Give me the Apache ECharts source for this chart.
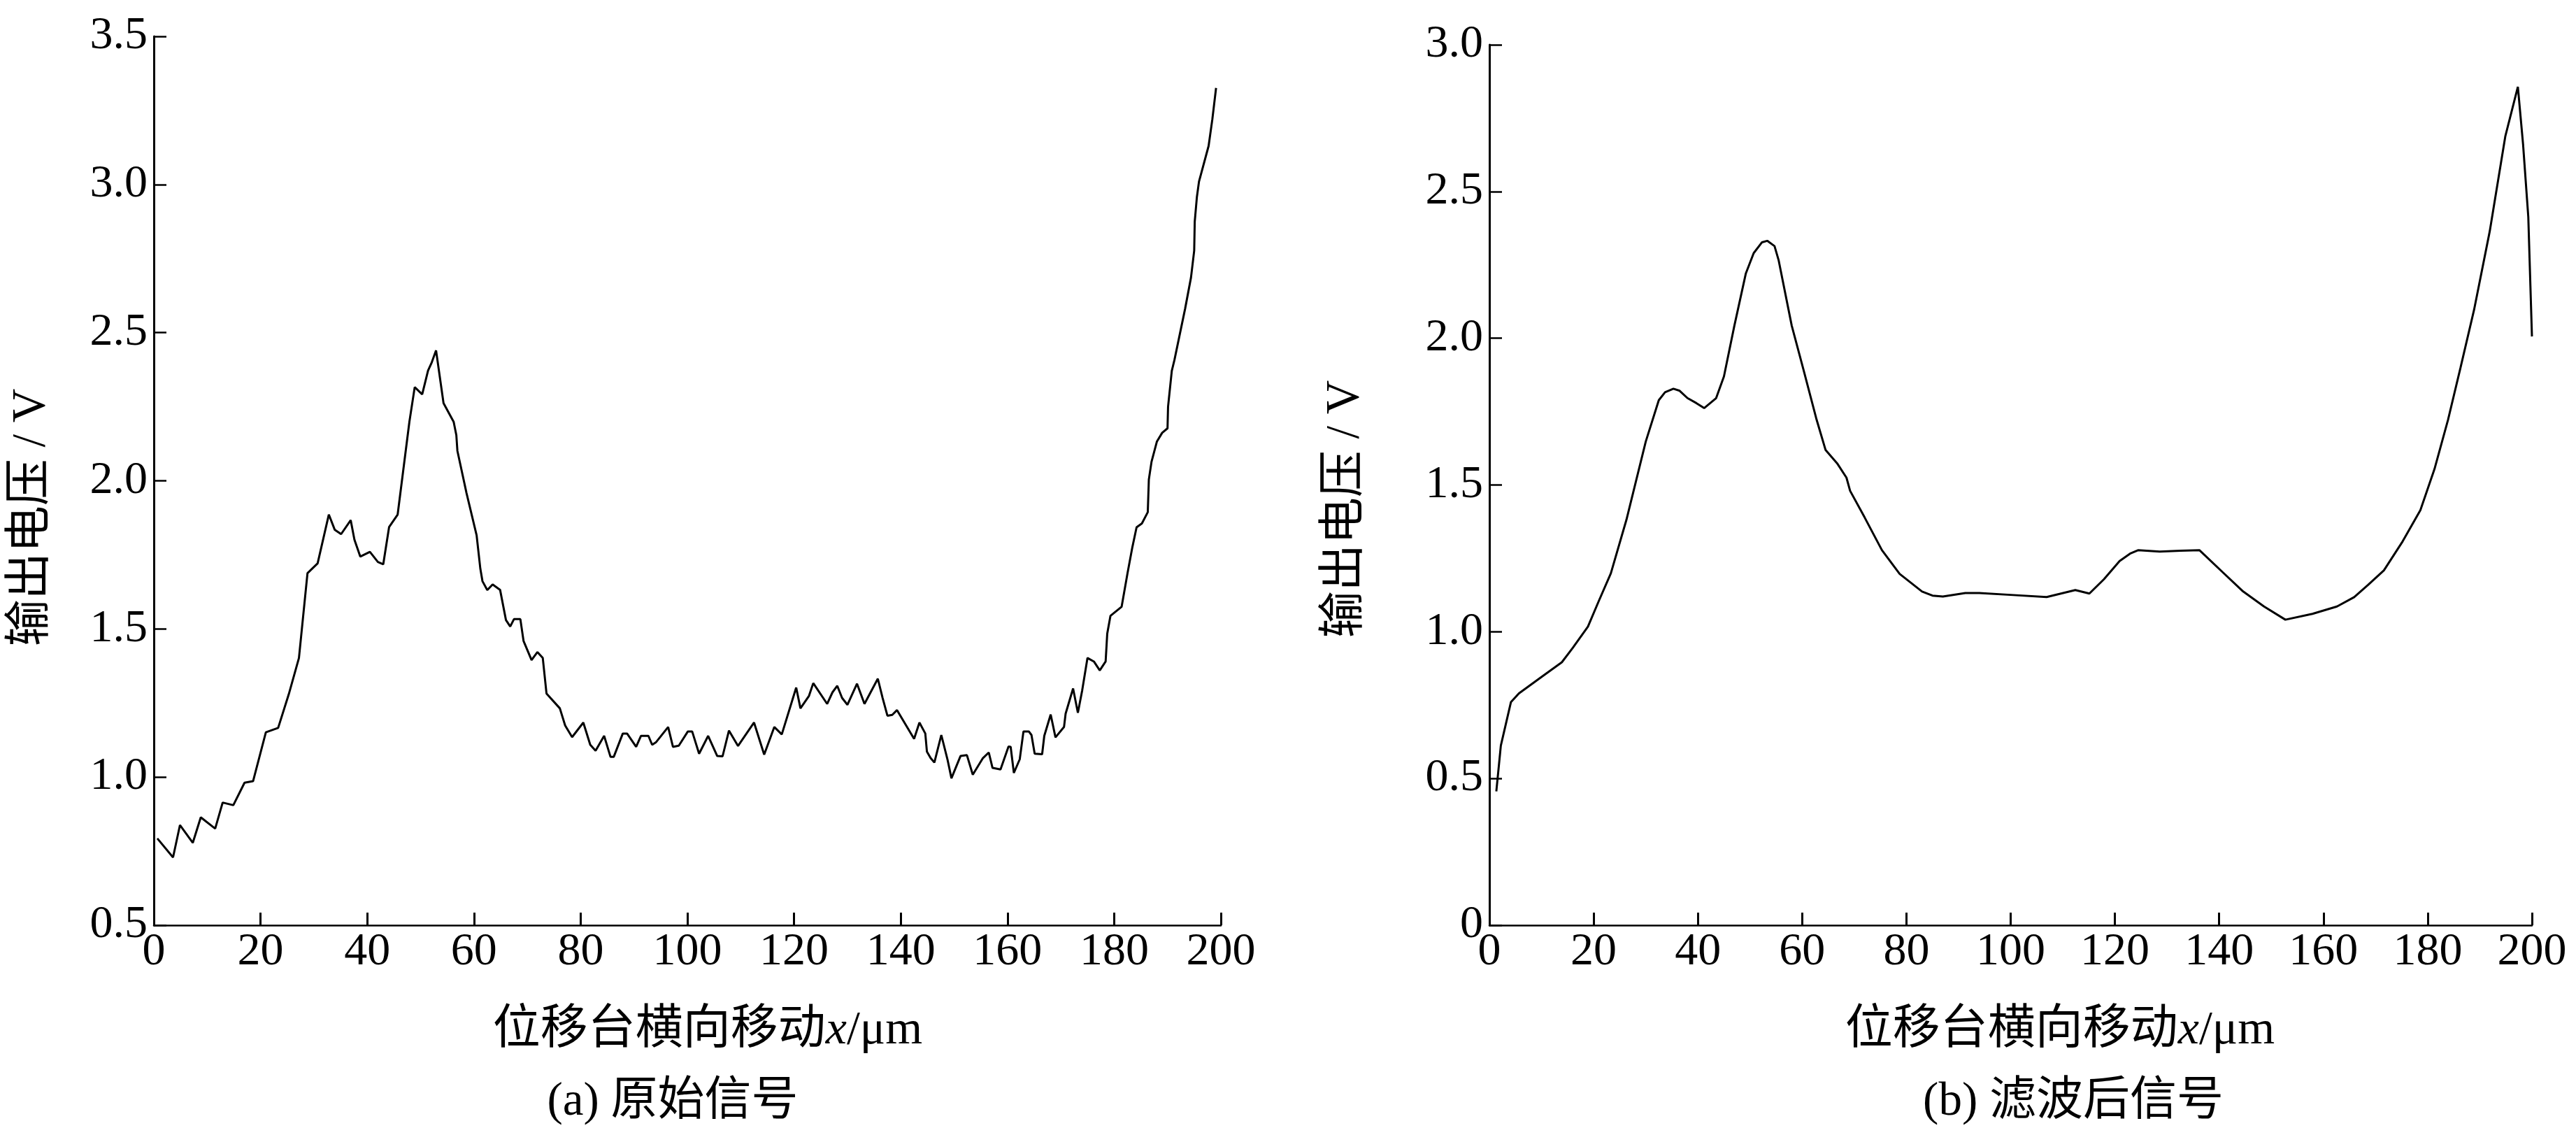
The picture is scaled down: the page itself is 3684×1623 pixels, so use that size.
<!DOCTYPE html>
<html>
<head>
<meta charset="utf-8">
<title>输出电压</title>
<script src="https://cdn.jsdelivr.net/npm/echarts@6/dist/echarts.min.js"></script>
<style>
  html, body { margin: 0; padding: 0; background: #fff; }
  #chart { width: 3684px; height: 1623px; }
</style>
</head>
<body>
<div id="chart"></div>
<script>
// (a) raw signal
const rawPos = [
  0.65, 3.6, 4.9, 7.3, 8.8, 11.5, 12.9, 14.9, 17.0, 18.6,
  21.0, 23.3, 25.3, 27.2, 28.8, 30.7, 32.8, 33.9, 35.1, 36.9,
  37.6, 38.7, 40.5, 42.0, 43.0, 44.1, 45.7, 47.9, 48.9, 50.3,
  51.4, 52.1, 52.9, 54.3, 56.2, 56.7, 56.9, 58.6, 60.5, 61.2,
  61.6, 62.5, 63.5, 64.9, 66.0, 66.8, 67.5, 68.7, 69.3, 70.8,
  71.9, 72.9, 73.6, 76.1, 77.1, 78.4, 80.5, 81.8, 82.8, 84.4,
  85.6, 86.2, 87.9, 88.7, 90.4, 91.3, 92.7, 93.4, 94.1, 96.4,
  97.3, 98.4, 100.1, 100.9, 102.2, 103.9, 105.6, 106.6, 107.8, 109.5,
  112.5, 114.4, 116.3, 117.7, 120.4, 121.2, 122.8, 123.6, 126.2, 127.2,
  128.1, 129.0, 130.0, 131.8, 133.2, 135.7, 136.6, 137.5, 138.4, 139.3,
  142.5, 143.5, 144.6, 144.9, 145.6, 146.3, 147.6, 148.8, 149.5, 151.2,
  152.4, 153.5, 155.4, 156.5, 157.2, 158.7, 160.2, 160.6, 161.2, 162.3,
  163.0, 164.0, 164.5, 165.1, 166.5, 166.9, 168.1, 169.0, 170.6, 170.9,
  172.3, 173.2, 174.0, 175.0, 176.2, 177.3, 178.4, 178.7, 179.3, 181.4,
  182.5, 183.4, 184.2, 185.2, 186.3, 186.5, 187.0, 188.0, 189.0, 190.0,
  190.1, 190.8, 191.3, 193.3, 194.4, 195.0, 195.1, 195.5, 195.9, 197.7,
  198.4, 199.1
];
const rawVolt = [
  0.793, 0.729, 0.838, 0.778, 0.864, 0.826, 0.914, 0.905, 0.981, 0.986,
  1.151, 1.166, 1.280, 1.402, 1.688, 1.721, 1.886, 1.835, 1.820, 1.867,
  1.801, 1.744, 1.760, 1.726, 1.718, 1.844, 1.886, 2.199, 2.316, 2.292,
  2.372, 2.400, 2.440, 2.262, 2.199, 2.154, 2.101, 1.959, 1.816, 1.703,
  1.661, 1.631, 1.650, 1.632, 1.530, 1.508, 1.533, 1.533, 1.459, 1.395,
  1.422, 1.402, 1.282, 1.232, 1.174, 1.135, 1.184, 1.109, 1.089, 1.139,
  1.068, 1.068, 1.147, 1.147, 1.102, 1.139, 1.139, 1.109, 1.117, 1.169,
  1.102, 1.106, 1.154, 1.154, 1.079, 1.139, 1.071, 1.070, 1.157, 1.105,
  1.184, 1.076, 1.169, 1.144, 1.302, 1.232, 1.274, 1.317, 1.247, 1.286,
  1.308, 1.267, 1.244, 1.315, 1.247, 1.332, 1.267, 1.207, 1.210, 1.226,
  1.129, 1.184, 1.147, 1.086, 1.064, 1.049, 1.142, 1.056, 0.996, 1.071,
  1.074, 1.008, 1.064, 1.083, 1.031, 1.026, 1.103, 1.102, 1.014, 1.060,
  1.154, 1.154, 1.142, 1.079, 1.077, 1.139, 1.211, 1.134, 1.169, 1.214,
  1.299, 1.217, 1.292, 1.402, 1.390, 1.360, 1.390, 1.484, 1.544, 1.575,
  1.688, 1.775, 1.843, 1.856, 1.894, 2.004, 2.064, 2.132, 2.162, 2.177,
  2.250, 2.371, 2.408, 2.581, 2.686, 2.777, 2.874, 2.957, 3.010, 3.130,
  3.220, 3.326
];

// (b) filtered signal
const filtPos = [
  1.33, 2.2, 4.13, 5.67, 10.0, 13.9, 16.0, 18.9, 21.0, 23.3,
  26.3, 30.0, 32.5, 33.7, 35.3, 36.5, 38.0, 39.7, 41.2, 43.5,
  45.0, 47.0, 49.2, 50.7, 52.3, 53.3, 54.7, 55.5, 58.0, 60.3,
  62.7, 64.5, 66.7, 68.5, 69.2, 72.0, 75.3, 78.7, 83.0, 85.0,
  87.0, 91.3, 94.0, 100.5, 106.9, 112.4, 115.1, 117.9, 120.9, 122.9,
  124.5, 128.6, 132.6, 136.2, 140.6, 144.6, 148.6, 152.7, 157.9, 162.6,
  165.9, 168.6, 171.6, 175.2, 178.6, 181.3, 183.9, 186.3, 188.9, 191.9,
  194.9, 197.3, 198.3, 199.3, 200.0
];
const filtVolt = [
  0.456, 0.612, 0.760, 0.790, 0.846, 0.896, 0.945, 1.017, 1.105, 1.199,
  1.382, 1.648, 1.789, 1.816, 1.828, 1.821, 1.796, 1.779, 1.762, 1.796,
  1.870, 2.043, 2.221, 2.290, 2.327, 2.332, 2.314, 2.265, 2.043, 1.890,
  1.727, 1.619, 1.574, 1.525, 1.480, 1.389, 1.278, 1.197, 1.137, 1.123,
  1.120, 1.132, 1.132, 1.125, 1.118, 1.142, 1.130, 1.179, 1.241, 1.266,
  1.278, 1.273, 1.276, 1.278, 1.204, 1.137, 1.086, 1.041, 1.061, 1.086,
  1.118, 1.160, 1.209, 1.308, 1.414, 1.554, 1.722, 1.900, 2.097, 2.364,
  2.689, 2.857, 2.660, 2.413, 2.006
];

const xTitle = '位移台横向移动{i|x}/μm';
const yTitle = '输出电压 / V';
const captions = ['(a) 原始信号', '(b) 滤波后信号'];

const serif = '"Liberation Serif", "Times New Roman", "Noto Sans CJK SC"';

function pairs(xs, ys) {
  return xs.map((x, i) => [x, ys[i]]);
}

function xAxisCfg(gridIndex) {
  return {
    type: 'value', gridIndex: gridIndex, min: 0, max: 200, interval: 20,
    axisLine: { show: true, onZero: false, lineStyle: { color: '#000', width: 2.5 } },
    axisTick: { show: true, inside: true, length: 18, lineStyle: { color: '#000', width: 3 } },
    axisLabel: { color: '#000', fontFamily: serif, fontSize: 66, margin: 6 },
    splitLine: { show: false }
  };
}

function yAxisCfg(gridIndex, min, max) {
  return {
    type: 'value', gridIndex: gridIndex, min: min, max: max, interval: 0.5,
    axisLine: { show: true, onZero: false, lineStyle: { color: '#000', width: 3 } },
    axisTick: { show: true, inside: true, length: 18, lineStyle: { color: '#000', width: 2.5 } },
    axisLabel: {
      color: '#000', fontFamily: serif, fontSize: 66, margin: 9,
      formatter: v => (v === 0 ? '0' : v.toFixed(1))
    },
    splitLine: { show: false }
  };
}

function label(text, x, y, size, rotation) {
  return {
    type: 'text', x: x, y: y, rotation: rotation || 0,
    style: {
      text: text, x: 0, y: 0, fill: '#000',
      font: size + 'px ' + serif, align: 'center', verticalAlign: 'middle',
      rich: { i: { fontStyle: 'italic', fontSize: size, fontFamily: serif } }
    }
  };
}

const chart = echarts.init(document.getElementById('chart'));
chart.setOption({
  backgroundColor: '#fff',
  animation: false,
  grid: [
    { left: 220, top: 52, width: 1526, height: 1271 },
    { left: 2130, top: 64, width: 1491, height: 1259 }
  ],
  xAxis: [xAxisCfg(0), xAxisCfg(1)],
  yAxis: [yAxisCfg(0, 0.5, 3.5), yAxisCfg(1, 0, 3)],
  series: [
    {
      type: 'line', xAxisIndex: 0, yAxisIndex: 0, showSymbol: false,
      data: pairs(rawPos, rawVolt),
      lineStyle: { color: '#000', width: 3 }
    },
    {
      type: 'line', xAxisIndex: 1, yAxisIndex: 1, showSymbol: false,
      data: pairs(filtPos, filtVolt),
      lineStyle: { color: '#000', width: 3 }
    }
  ],
  graphic: [
    label(yTitle, 45, 740, 67, Math.PI / 2),
    label(yTitle, 1924, 728, 67, Math.PI / 2),
    label(xTitle, 1012, 1474, 68),
    label(xTitle, 2946, 1474, 68),
    label(captions[0], 962, 1576, 67),
    label(captions[1], 2965, 1576, 67)
  ]
});
</script>
</body>
</html>
